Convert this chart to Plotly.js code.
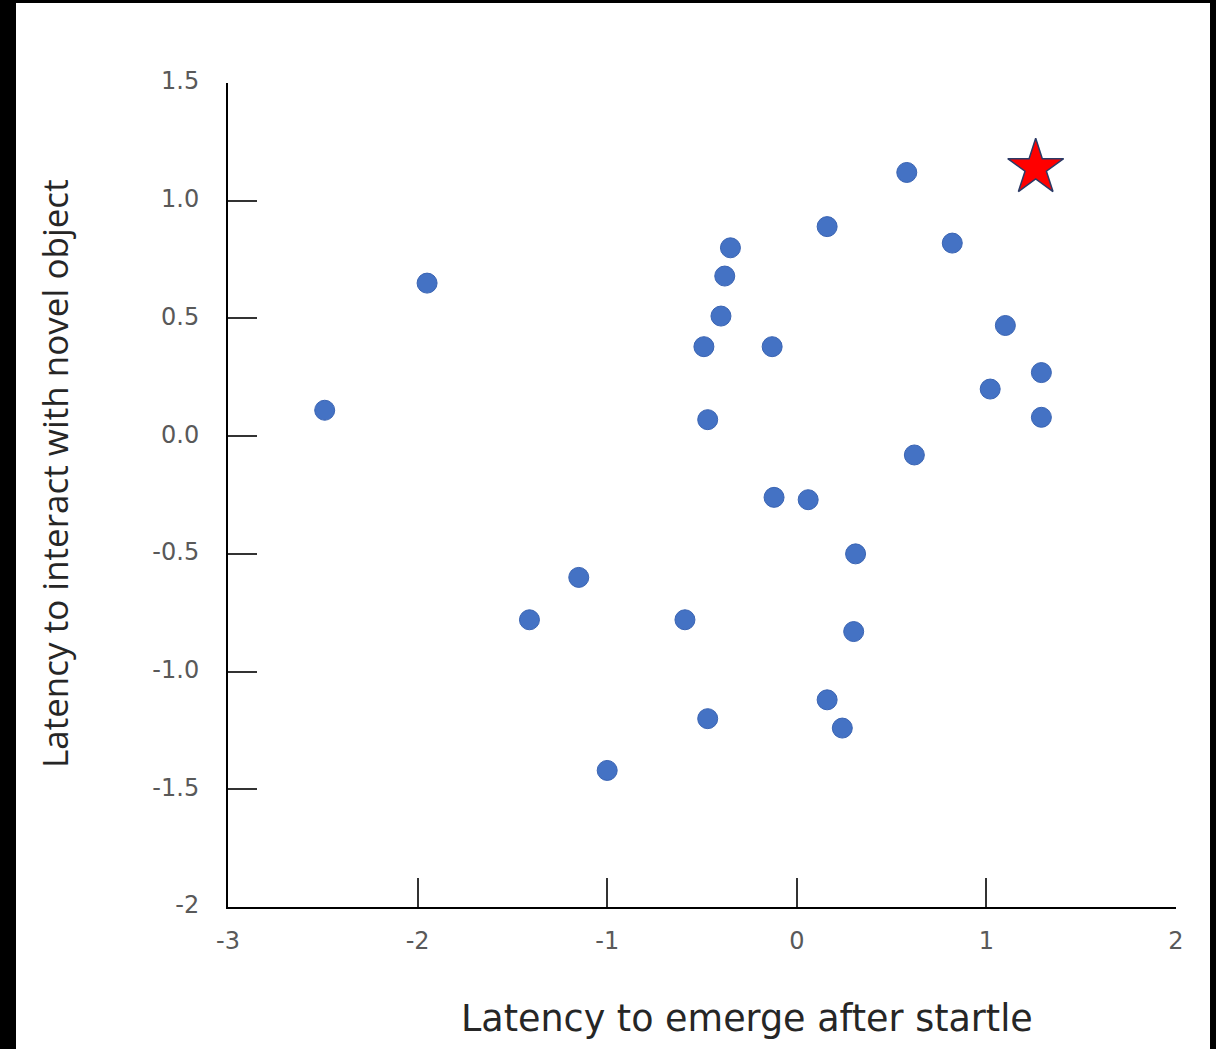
<!DOCTYPE html>
<html>
<head>
<meta charset="utf-8">
<script src="https://cdn.plot.ly/plotly-3.0.1.min.js"></script>
<style>
  html, body { margin: 0; padding: 0; background: #000; width: 1216px; height: 1049px; overflow: hidden; }
  #chart { position: absolute; left: 16px; top: 3px; width: 1194px; height: 1046px; background: #fff; }
</style>
</head>
<body>
<div id="chart"></div>
<script>
// Latency to emerge after startle (x) vs latency to interact with novel object (y)
const emergeX = [-2.49, -1.95, -1.15, -1.41, -1.00, -0.59, -0.47, -0.49, -0.47, -0.40, -0.38, -0.35,
                 -0.13, -0.12, 0.06, 0.16, 0.31, 0.30, 0.16, 0.24, 0.58, 0.62, 0.82, 1.10, 1.02, 1.29, 1.29];
const interactY = [0.11, 0.65, -0.60, -0.78, -1.42, -0.78, -1.20, 0.38, 0.07, 0.51, 0.68, 0.80,
                   0.38, -0.26, -0.27, 0.89, -0.50, -0.83, -1.12, -1.24, 1.12, -0.08, 0.82, 0.47, 0.20, 0.27, 0.08];
const starX = [1.26];
const starY = [1.14];

const xTickVals = [-3, -2, -1, 0, 1, 2];
const xTickText = ['-3', '-2', '-1', '0', '1', '2'];
const yTickVals = [1.5, 1.0, 0.5, 0.0, -0.5, -1.0, -1.5, -2];
const yTickText = ['1.5', '1.0', '0.5', '0.0', '-0.5', '-1.0', '-1.5', '-2'];

const xTitle = 'Latency to emerge after startle';
const yTitle = 'Latency to interact with novel object';

const traces = [
  {
    type: 'scatter', mode: 'markers', x: emergeX, y: interactY,
    marker: { symbol: 'circle', size: 20, color: '#4472C4', line: { color: '#3a64b3', width: 1 } },
    hoverinfo: 'x+y', showlegend: false, cliponaxis: false
  },
  {
    type: 'scatter', mode: 'markers', x: starX, y: starY,
    marker: { symbol: 'star', size: 42, color: '#FF0000', line: { color: '#2b3a66', width: 1.5 } },
    hoverinfo: 'x+y', showlegend: false, cliponaxis: false
  }
];

const tickFont = { family: 'DejaVu Sans, Open Sans, sans-serif', size: 24, color: '#595959' };

const layout = {
  width: 1194, height: 1046,
  paper_bgcolor: '#ffffff', plot_bgcolor: '#ffffff',
  margin: { l: 212, r: 34, t: 80, b: 142, pad: 0 },
  showlegend: false,
  xaxis: {
    range: [-3, 2], fixedrange: true,
    showgrid: false, zeroline: false,
    showline: true, linecolor: '#000000', linewidth: 2,
    ticks: 'inside', ticklen: 29, tickwidth: 2, tickcolor: '#333333',
    tickmode: 'array', tickvals: xTickVals, ticktext: xTickText,
    tickfont: tickFont, ticklabelstandoff: 11
  },
  yaxis: {
    range: [-2, 1.5], fixedrange: true,
    showgrid: false, zeroline: false,
    showline: true, linecolor: '#000000', linewidth: 2,
    ticks: 'inside', ticklen: 29, tickwidth: 2, tickcolor: '#333333',
    tickmode: 'array', tickvals: yTickVals, ticktext: yTickText,
    tickfont: tickFont, ticklabelstandoff: 22, ticklabelshift: -2
  },
  annotations: [
    {
      text: xTitle, xref: 'paper', yref: 'paper',
      x: (747 - 228) / 948, y: -(1018 - 907) / 824,
      xanchor: 'center', yanchor: 'middle', showarrow: false,
      font: { family: 'DejaVu Sans, Open Sans, sans-serif', size: 36.5, color: '#262626' }
    },
    {
      text: yTitle, xref: 'paper', yref: 'paper', textangle: -90,
      x: -(228 - 55) / 948, y: (907 - 474) / 824,
      xanchor: 'center', yanchor: 'middle', showarrow: false,
      font: { family: 'Open Sans, DejaVu Sans, sans-serif', size: 35, color: '#262626' }
    }
  ]
};

Plotly.newPlot('chart', traces, layout, { staticPlot: true, displayModeBar: false });
</script>
</body>
</html>
